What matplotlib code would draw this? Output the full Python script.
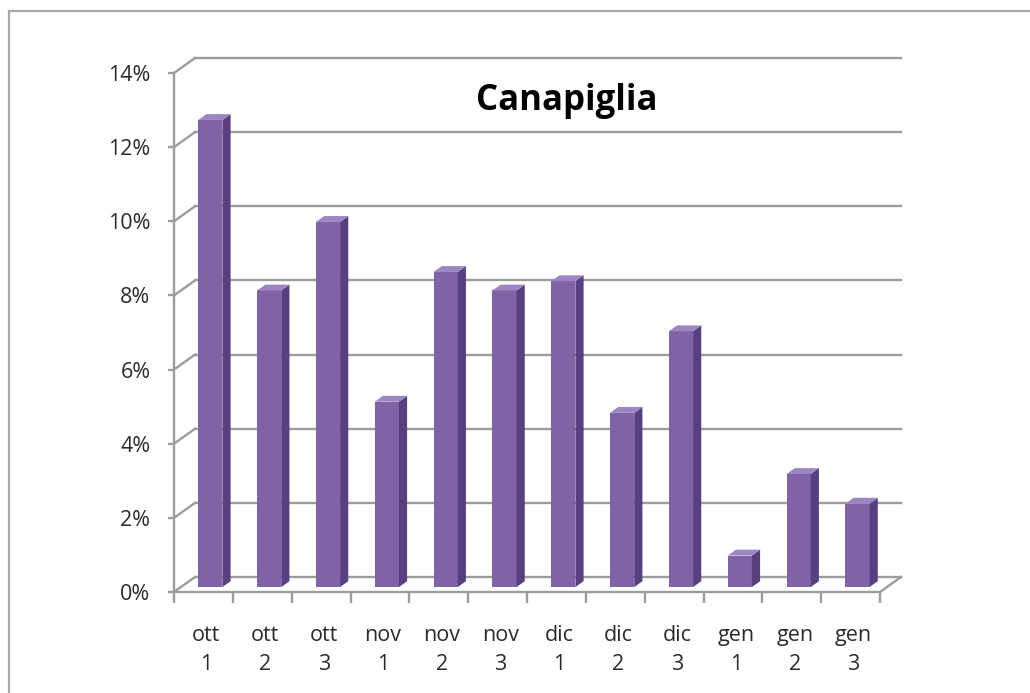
import numpy as np
import matplotlib
matplotlib.use("Agg")
from matplotlib import pyplot as plt
from matplotlib.patches import Polygon, Rectangle

plt.rcParams['font.family'] = ['Open Sans', 'DejaVu Sans']

# data
months = ["ott", "ott", "ott", "nov", "nov", "nov", "dic", "dic", "dic", "gen", "gen", "gen"]
decades = ["1", "2", "3", "1", "2", "3", "1", "2", "3", "1", "2", "3"]
values = [12.6, 8.0, 9.85, 5.0, 8.5, 8.0, 8.25, 4.7, 6.9, 0.85, 3.05, 2.25]
yticks = [0, 2, 4, 6, 8, 10, 12, 14]
title = "Canapiglia"

W, H = 1030, 693
fig = plt.figure(figsize=(W / 100, H / 100), dpi=100)

# front plane of the 3d box, in pixels
px_left, px_right = 174, 880
px_bottom, px_top = 592, 73
ax = fig.add_axes([px_left / W, (H - px_bottom) / H,
                   (px_right - px_left) / W, (px_bottom - px_top) / H])
n = len(values)
ax.set_xlim(0, n)
ax.set_ylim(0, 14)

# depth offset of the back wall (21 px right, 15 px up) in data units
per_cat = (px_right - px_left) / n
per_pct = (px_bottom - px_top) / 14
ddx = 21 / per_cat
ddy = 15 / per_pct

grid_col = "#9c9c9c"
lw = 1.7

# back wall gridlines + left wall diagonals
for t in yticks:
    ax.plot([ddx, n + ddx], [t + ddy, t + ddy], color=grid_col, lw=lw, clip_on=False, zorder=1)
    ax.plot([0, ddx], [t, t + ddy], color=grid_col, lw=lw, clip_on=False, zorder=1)
# floor right edge
ax.plot([n, n + ddx], [0, ddy], color=grid_col, lw=lw, clip_on=False, zorder=1)

# bars, placed part way into the depth
f0, f1 = 0.33, 0.72
bw = 0.41
front_col, side_col, top_col = "#7f63a6", "#583f80", "#9c85c0"
xs = np.arange(n) + 0.5 + f0 * ddx
base = f0 * ddy
ax.bar(xs, values, width=bw, bottom=base, color=front_col, zorder=3, clip_on=False)
sx = (f1 - f0) * ddx
sy = (f1 - f0) * ddy
for x, v in zip(xs, values):
    r = x + bw / 2
    l = x - bw / 2
    top = base + v
    side = Polygon([(r, base), (r + sx, base + sy), (r + sx, top + sy), (r, top)],
                   closed=True, facecolor=side_col, edgecolor="none", zorder=3, clip_on=False)
    cap = Polygon([(l, top), (l + sx, top + sy), (r + sx, top + sy), (r, top)],
                  closed=True, facecolor=top_col, edgecolor="none", zorder=3, clip_on=False)
    ax.add_patch(side)
    ax.add_patch(cap)

# axes
for s in ["top", "right"]:
    ax.spines[s].set_visible(False)
for s in ["left", "bottom"]:
    ax.spines[s].set_color(grid_col)
    ax.spines[s].set_linewidth(lw)

ax.set_yticks(yticks)
ax.set_yticklabels([f"{t}%" for t in yticks])
ax.tick_params(axis="y", length=4, width=lw, color=grid_col, pad=13,
               labelsize=15.5, labelcolor="#2b2b2b")

ax.set_xticks(np.arange(n + 1))
ax.set_xticklabels([])
ax.tick_params(axis="x", which="major", length=8, width=lw, color=grid_col)
ax.set_xticks(np.arange(n) + 0.55, minor=True)
ax.set_xticklabels([f"{m}\n{d}" for m, d in zip(months, decades)], minor=True,
                   linespacing=1.5)
ax.tick_params(axis="x", which="minor", length=0, pad=24,
               labelsize=15.5, labelcolor="#2b2b2b")

fig.text(567 / W, (H - 110) / H, title, ha="center", va="baseline",
         fontsize=25, fontweight="bold", color="black")

# chart area border (cropped at right and bottom)
fig.patches.append(Rectangle((9 / W, -0.1), 1.2, (H - 11) / H + 0.1,
                             transform=fig.transFigure, fill=False,
                             edgecolor="#a8a8a8", lw=1.6))

fig.savefig("out.png", dpi=100)
